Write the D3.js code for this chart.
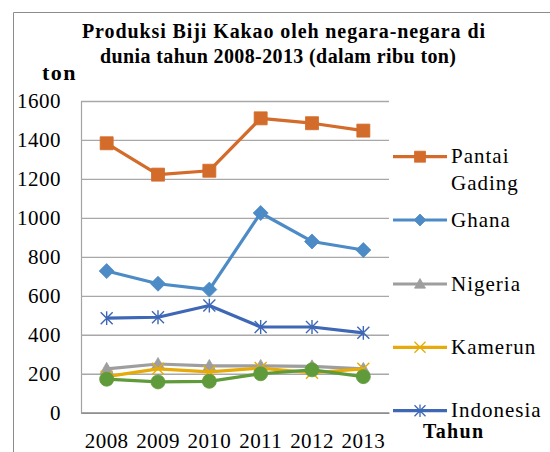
<!DOCTYPE html>
<html>
<head>
<meta charset="utf-8">
<script src="https://cdn.jsdelivr.net/npm/d3@7"></script>
<style>
  html, body { margin: 0; padding: 0; background: #fff; }
  svg { display: block; }
  svg text { font-family: "Liberation Serif", "Times New Roman", serif !important; fill: #000; }
</style>
</head>
<body>
<svg id="chart" width="550" height="452"></svg>
<script>
// ---- data ----
const years = ["2008", "2009", "2010", "2011", "2012", "2013"];
const yTicks = [0, 200, 400, 600, 800, 1000, 1200, 1400, 1600];
const seriesNames = ["Pantai Gading", "Ghana", "Nigeria", "Kamerun", "Indonesia", "Brasil"];
const pantaiGading = [1383, 1222, 1242, 1511, 1486, 1448];
const ghana        = [727, 662, 632, 1025, 879, 835];
const nigeria      = [225, 250, 240, 240, 238, 225];
const kamerun      = [185, 225, 210, 229, 205, 225];
const indonesia    = [485, 490, 550, 440, 440, 410];
const brasil       = [172, 158, 161, 200, 220, 185];
const titleLines = ["Produksi Biji Kakao oleh negara-negara di", "dunia tahun 2008-2013 (dalam ribu ton)"];

const seriesValues = [pantaiGading, ghana, nigeria, kamerun, indonesia, brasil];
const colors = ["#D36B2A", "#4D8BC6", "#9E9E9E", "#E6AB0A", "#3E67B5", "#5F9A3B"];
const markers = ["square", "diamond", "triangle", "x", "star", "circle"];
const inLegend = [true, true, true, true, true, false];

const FONT = '"Liberation Serif", "Times New Roman", serif';
const svg = d3.select("#chart");

// outer chart frame (extends past the window at right & bottom)
svg.append("path")
  .attr("d", "M13.5,452 L13.5,12.5 L550,12.5")
  .attr("fill", "none").attr("stroke", "#8C8C8C").attr("stroke-width", 1);

// plot area
const plot = { left: 81, right: 389, top: 101, bottom: 412.7 };
const x = d3.scaleBand().domain(years).range([plot.left, plot.right]).padding(0);
const y = d3.scaleLinear().domain([0, 1600]).range([plot.bottom, plot.top]);
const cx = d => x(d) + x.bandwidth() / 2;

// gridlines + y labels
const yAxis = d3.axisLeft(y).tickValues(yTicks)
  .tickSize(-(plot.right - plot.left)).tickPadding(20).tickFormat(d3.format("d"));
const gy = svg.append("g").attr("transform", `translate(${plot.left},0)`).call(yAxis);
gy.attr("font-family", null).attr("font-size", null);
gy.select(".domain").attr("stroke", "#A3A3A3").attr("stroke-width", 1.2);
gy.selectAll(".tick line").attr("stroke", "#A8A8A8").attr("stroke-width", 1.3);
gy.selectAll(".tick text")
  .style("font-family", FONT).style("font-size", "21px")
  .attr("letter-spacing", 0.5).attr("fill", "#000");

// x axis
const xAxis = d3.axisBottom(x).tickSize(0).tickPadding(20);
const gx = svg.append("g").attr("transform", `translate(0,${plot.bottom})`).call(xAxis);
gx.attr("font-family", null).attr("font-size", null);
gx.select(".domain").attr("stroke", "#8F8F8F").attr("stroke-width", 1.5);
gx.selectAll(".tick text")
  .style("font-family", FONT).style("font-size", "21px")
  .attr("letter-spacing", 0.4).attr("fill", "#000");

// marker generator
function markerPath(type, s) {
  const h = s / 2;
  switch (type) {
    case "square": return `M${-h},${-h}H${h}V${h}H${-h}Z`;
    case "diamond": return `M0,${-h}L${h},0L0,${h}L${-h},0Z`;
    case "triangle": return `M0,${-h}L${h},${h * 0.75}L${-h},${h * 0.75}Z`;
    case "circle": return `M${h},0A${h},${h} 0 1,1 ${-h},0A${h},${h} 0 1,1 ${h},0Z`;
    case "x": return `M${-h},${-h}L${h},${h}M${h},${-h}L${-h},${h}`;
    case "star": return `M${-h},${-h}L${h},${h}M${h},${-h}L${-h},${h}M0,${-h * 1.15}L0,${h * 1.15}`;
  }
}
const filled = t => !(t === "x" || t === "star");
const markerSize = { square: 13, diamond: 15, triangle: 13, circle: 14, x: 12, star: 12 };

const line = d3.line().x((d, i) => cx(years[i])).y(d => y(d));

seriesValues.forEach((vals, si) => {
  const g = svg.append("g");
  g.append("path").datum(vals)
    .attr("d", line).attr("fill", "none")
    .attr("stroke", colors[si]).attr("stroke-width", 3.2)
    .attr("stroke-linejoin", "round");
  const m = markers[si];
  g.selectAll("path.mk").data(vals).enter().append("path")
    .attr("class", "mk")
    .attr("transform", (d, i) => `translate(${cx(years[i])},${y(d)})`)
    .attr("d", markerPath(m, markerSize[m]))
    .attr("fill", filled(m) ? colors[si] : "none")
    .attr("stroke", colors[si])
    .attr("stroke-width", filled(m) ? 0.8 : 1.4);
});

// title
const title = svg.append("g");
const titleWidths = [403, 356];
const titleCenters = [283.5, 278];
const titleBaselines = [37.7, 63];
titleLines.forEach((t, i) => {
  title.append("text")
    .attr("x", titleCenters[i]).attr("y", titleBaselines[i])
    .attr("text-anchor", "middle")
    .style("font-size", "20px").attr("font-weight", "bold")
    .attr("textLength", titleWidths[i]).attr("lengthAdjust", "spacing")
    .text(t);
});

// axis titles
svg.append("text").attr("x", 42).attr("y", 80)
  .style("font-size", "22px").attr("font-weight", "bold")
  .attr("letter-spacing", 1.5).text("ton");
svg.append("text").attr("x", 423).attr("y", 438)
  .style("font-size", "20px").attr("font-weight", "bold")
  .attr("textLength", 60).attr("lengthAdjust", "spacing").text("Tahun");

// legend
const legendY = [156.7, 220, 284, 347.3, 410.7];
const legendMarkerSize = { square: 11, diamond: 12, triangle: 11, circle: 11, x: 11, star: 11 };
const lg = svg.append("g");
seriesNames.forEach((name, si) => {
  if (!inLegend[si]) return;
  const ly = legendY[si];
  const m = markers[si];
  const g = lg.append("g").attr("transform", `translate(0,${ly})`);
  g.append("line").attr("x1", 393).attr("x2", 447).attr("y1", 0).attr("y2", 0)
    .attr("stroke", colors[si]).attr("stroke-width", 3.2);
  g.append("path").attr("transform", "translate(420,0)")
    .attr("d", markerPath(m, legendMarkerSize[m]))
    .attr("fill", filled(m) ? colors[si] : "none")
    .attr("stroke", colors[si]).attr("stroke-width", filled(m) ? 0.8 : 1.3);
  const words = name.split(" ");
  const txt = g.append("text").attr("x", 451).attr("y", 6.5)
    .style("font-size", "21px").attr("letter-spacing", 1);
  words.forEach((w, wi) => {
    txt.append("tspan").attr("x", 451).attr("dy", wi === 0 ? 0 : 27.3).text(w);
  });
});
</script>
</body>
</html>
